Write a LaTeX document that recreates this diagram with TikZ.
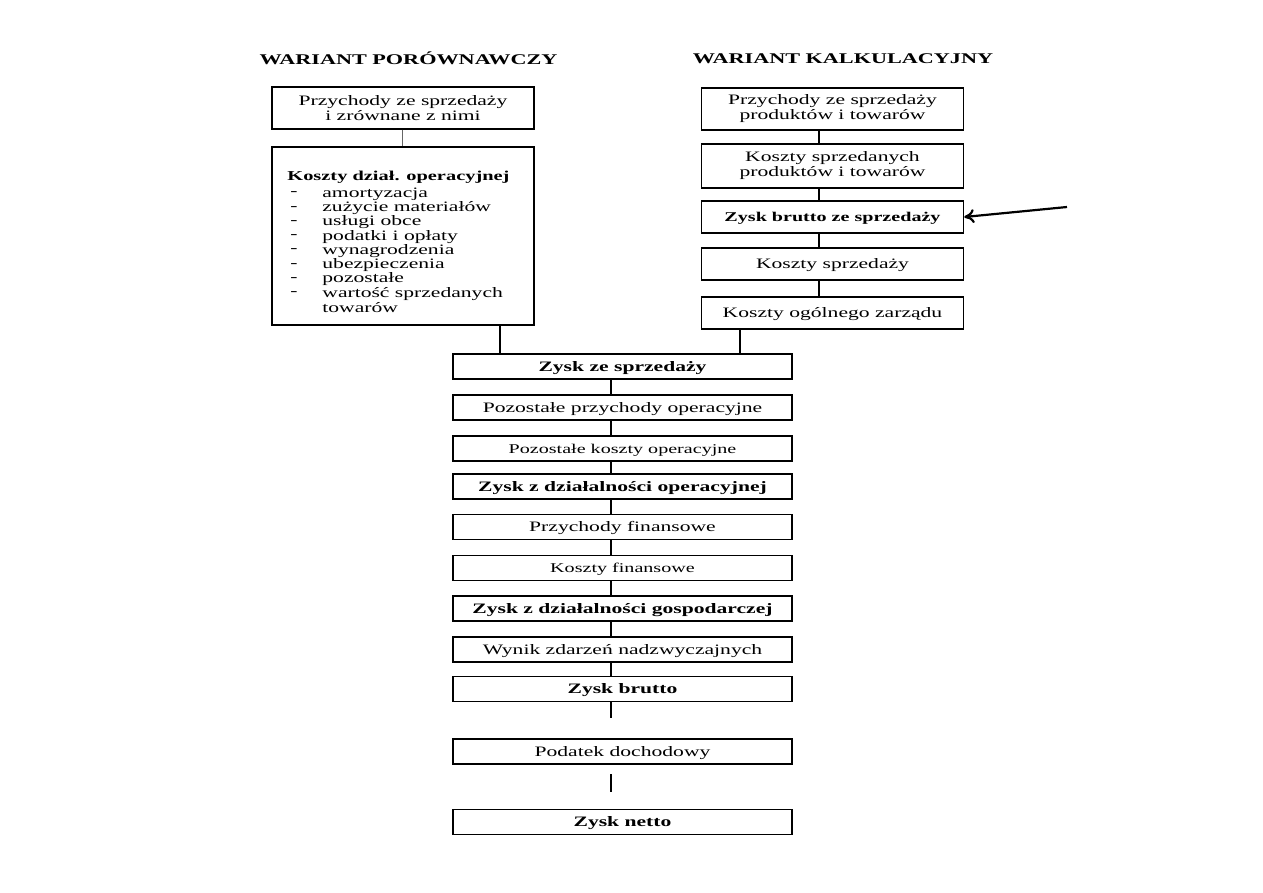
\documentclass[tikz,border=0pt]{standalone}
\usepackage{fontspec}
\setmainfont{Liberation Serif}[FakeStretch=1.5]
\usetikzlibrary{arrows.meta}
\newcommand\txtN{\fontsize{7.2}{7.5}\selectfont}
\newcommand\txtS{\fontsize{6.7}{7}\selectfont}
\newcommand\txtT{\fontsize{7.4}{8}\selectfont\bfseries}
\begin{document}
\begin{tikzpicture}[x=0.5pt,y=-0.5pt,
  box/.style={draw, line width=0.75pt, inner sep=0pt, align=center, font=\txtN},
  oneline/.style={text height=4.8pt, text depth=0pt},
  lbox/.style={box, minimum width=131pt},
  cbox/.style={box, oneline, minimum width=169.5pt, minimum height=12.5pt},
  title/.style={inner sep=0pt, font=\txtT},
  item/.style={inner sep=0pt, anchor=west, font=\txtN},
  link/.style={line width=1pt},
  thinlink/.style={line width=0.4pt, draw=black!60},
  arrow/.style={line width=1.1pt, -{To[length=5pt,width=7pt]}}]
\useasboundingbox (0,0) rectangle (1263,893);
% titles
\node[title] (t1) at (408.5,58) {WARIANT PORÓWNAWCZY};
\node[title] (t2) at (843,59) {WARIANT KALKULACYJNY};
% left column
\node[lbox, minimum height=21pt] (l1) at (403,108) {Przychody ze sprzedaży\\i zrównane z nimi};
\node[lbox, minimum height=89pt] (l2) at (403,236) {};
\node[item, font=\fontsize{6.8}{7}\selectfont\bfseries] (lh) at (287,177) {Koszty dział. operacyjnej};
\foreach \t [count=\i from 0] in {amortyzacja, zużycie materiałów, usługi obce, podatki i opłaty, wynagrodzenia, ubezpieczenia, pozostałe, wartość sprzedanych}{
  \node[item] (d\i) at (290,194+14.25*\i) {-};
  \node[item] (li\i) at (322,194+14.25*\i) {\t};
}
\node[item] (li8) at (322,308) {towarów};
% right column
\node[lbox, minimum height=21pt] (r1) at (832.5,109) {Przychody ze sprzedaży\\produktów i towarów};
\node[lbox, minimum height=22pt] (r2) at (832.5,166) {Koszty sprzedanych\\produktów i towarów};
\node[lbox, oneline, minimum height=16pt, font=\txtS\bfseries] (r3) at (832.5,217) {Zysk brutto ze sprzedaży};
\node[lbox, oneline, minimum height=16pt] (r4) at (832.5,264) {Koszty sprzedaży};
\node[lbox, oneline, minimum height=16pt] (r5) at (832.5,313) {Koszty ogólnego zarządu};
% centre column
\node[cbox, font=\txtN\bfseries] (c1) at (622.5,366.5) {Zysk ze sprzedaży};
\node[cbox] (c2) at (622.5,407.5) {Pozostałe przychody operacyjne};
\node[cbox, font=\txtS] (c3) at (622.5,448.5) {Pozostałe koszty operacyjne};
\node[cbox, font=\txtN\bfseries] (c4) at (622.5,486.5) {Zysk z działalności operacyjnej};
\node[cbox] (c5) at (622.5,527) {Przychody finansowe};
\node[cbox, font=\txtS] (c6) at (622.5,568) {Koszty finansowe};
\node[cbox, font=\txtN\bfseries] (c7) at (622.5,608.5) {Zysk z działalności gospodarczej};
\node[cbox] (c8) at (622.5,649.5) {Wynik zdarzeń nadzwyczajnych};
\node[cbox, font=\txtN\bfseries] (c9) at (622.5,689) {Zysk brutto};
\node[cbox] (c10) at (622.5,751.5) {Podatek dochodowy};
\node[cbox, font=\txtN\bfseries] (c11) at (622.5,822) {Zysk netto};
% connector helpers
\coordinate (xl) at (402,0);
\coordinate (xla) at (500,0);
\coordinate (xr) at (819,0);
\coordinate (xra) at (740,0);
\coordinate (xm) at (611,0);
\coordinate (g1) at (611,718);
\coordinate (g2) at (611,774);
\coordinate (g3) at (611,792);
\coordinate (atail) at (1067,207);
% connectors
\draw[thinlink] (l1.south -| xl) -- (l2.north -| xl);
\draw[link] (l2.south -| xla) -- (c1.north -| xla);
\draw[link] (r1.south -| xr) -- (r2.north -| xr);
\draw[link] (r2.south -| xr) -- (r3.north -| xr);
\draw[link] (r3.south -| xr) -- (r4.north -| xr);
\draw[link] (r4.south -| xr) -- (r5.north -| xr);
\draw[link] (r5.south -| xra) -- (c1.north -| xra);
\foreach \a/\b in {c1/c2,c2/c3,c3/c4,c4/c5,c5/c6,c6/c7,c7/c8,c8/c9}{
  \draw[link] (\a.south -| xm) -- (\b.north -| xm);
}
\draw[link] (c9.south -| xm) -- (g1);
\draw[link] (g2) -- (g3);
\draw[arrow] (atail) -- (r3.east);
\end{tikzpicture}
\end{document}
